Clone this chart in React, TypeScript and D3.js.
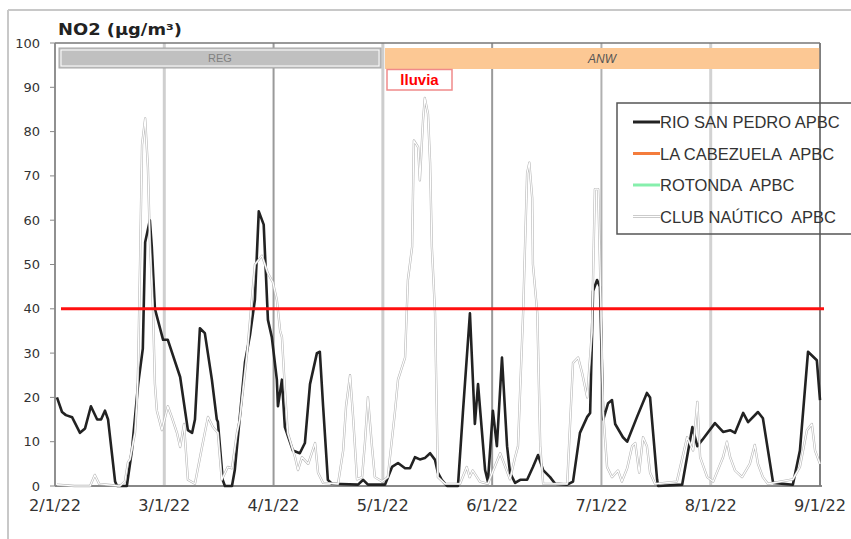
import React from "react";
import * as d3 from "d3";

// Day offsets (from 1 Feb 2022) of each month start on the axis
const monthStartDays = [0, 28, 59, 89, 120, 150, 181, 212];
const monthLabels = ["2/1/22", "3/1/22", "4/1/22", "5/1/22", "6/1/22", "7/1/22", "8/1/22", "9/1/22"];
const yTicks = [0, 10, 20, 30, 40, 50, 60, 70, 80, 90, 100];
const limitValue = 40;

// RIO SAN PEDRO APBC: [day offset, NO2 µg/m³]
const rioSanPedro: [number, number][] = [
  [0.5, 20], [1.8, 16.7], [2.8, 16], [4.4, 15.5], [6.4, 12], [7.7, 13], [9.2, 18], [10.8, 15],
  [11.8, 15], [12.8, 17], [13.6, 15], [15.4, 1], [15.9, 0], [18.4, 0], [19.7, 8], [21.3, 23],
  [22.5, 31], [23.1, 55], [24.3, 60], [24.8, 54], [25.6, 40], [27.7, 33], [29.0, 33], [32.5, 24.6],
  [34.7, 12.6], [35.9, 12], [36.7, 15], [38.1, 35.6], [39.5, 34.5], [41.5, 24], [42.9, 15],
  [43.2, 14.5], [44.6, 1.3], [45.2, 0], [47.2, 0], [48.0, 3.6], [50.9, 28], [52.3, 34], [53.7, 42],
  [54.8, 62], [56.2, 59], [57.4, 37.5], [58.5, 33.6], [59.9, 24], [60.2, 18], [61.3, 24],
  [62.1, 13.3], [64.3, 8], [66.2, 7.4], [67.6, 9.7], [69.0, 23], [70.9, 30], [71.7, 30.3],
  [72.6, 18], [73.9, 1.4], [75.0, 0.5], [82.2, 0.3], [83.6, 1.4], [84.9, 0.3], [89.6, 0.3],
  [91.6, 4.3], [93.3, 5.2], [95.3, 4], [96.7, 4], [98.1, 6.5], [99.5, 6], [100.9, 6.3],
  [102.4, 7.4], [103.8, 5.9], [104.6, 3], [105.7, 1.4], [107.2, 0], [110.3, 0], [111.7, 16.5],
  [113.7, 39], [115.1, 14], [116.0, 23], [118.0, 3.6], [118.8, 1], [120.2, 17], [121.3, 9],
  [122.7, 29], [124.1, 9], [124.9, 3], [126.3, 0.7], [127.7, 1.4], [129.6, 1.4], [131.2, 4.3],
  [132.6, 7], [134.0, 3.6], [135.9, 2], [137.3, 0.5], [140.6, 0.3], [142.2, 1], [144.1, 12],
  [146.1, 15.6], [146.9, 16.5], [147.7, 44], [148.8, 46.5], [149.6, 45], [150.5, 15],
  [151.9, 18.7], [153.0, 19.4], [153.9, 14], [156.1, 11], [157.3, 10], [160.1, 15.6],
  [162.9, 21], [163.8, 20], [165.8, 1.4], [166.1, 0], [172.9, 0.3], [175.8, 13.3], [177.2, 9],
  [178.6, 10.4], [182.2, 14.2], [184.5, 12.2], [186.5, 12.6], [187.9, 12], [190.2, 16.5],
  [191.6, 14.4], [194.4, 16.7], [195.8, 15.3], [198.7, 0.7], [204.3, 0.3], [206.3, 8],
  [208.6, 30.3], [211.1, 28.4], [212, 19.4],
];

// CLUB NAÚTICO APBC: [day offset, NO2 µg/m³]
const clubNautico: [number, number][] = [
  [0.5, 0.3], [5, 0], [9, 0], [10.2, 2.5], [11.3, 0.5], [16.6, 0], [17.9, 1], [18.7, 5.4],
  [19.2, 6], [20.5, 12], [21.0, 19], [21.3, 27], [21.8, 51], [22.3, 77], [23.1, 83], [23.8, 72],
  [24.3, 55.5], [25.1, 40], [25.6, 23], [26.1, 17], [27.4, 12.6], [29.0, 18], [30.1, 15.6],
  [31.6, 12], [32.5, 8.8], [33.6, 14], [34.7, 1.4], [36.7, 0.5], [38.7, 8.8], [40.4, 15.6],
  [41.8, 13.3], [43.2, 12], [44.3, 1.4], [46.0, 4.3], [47.2, 4], [48.6, 12], [49.4, 15],
  [51.5, 30], [53.7, 50], [55.7, 52], [57.4, 48], [58.8, 46], [59.9, 42], [60.8, 35],
  [61.3, 33.6], [62.1, 22], [62.9, 12], [64.9, 6.5], [65.7, 3.6], [66.8, 6.5], [68.5, 5],
  [70.4, 9.7], [71.2, 3], [72.6, 0.7], [76.7, 0.5], [78.1, 8], [78.9, 18], [80.0, 25],
  [80.8, 16], [81.9, 1.5], [83.3, 2], [84.1, 10], [84.9, 20], [86.0, 9], [86.8, 2], [88.8, 1],
  [90.4, 2], [92.4, 16.5], [93.3, 24], [95.3, 29], [96.1, 46.5], [97.3, 54], [97.8, 78],
  [99.0, 76.5], [99.5, 69], [100.4, 82.6], [100.9, 87.6], [101.8, 84], [102.4, 73],
  [102.9, 54], [103.8, 39], [104.3, 16.5], [104.6, 2], [106.6, 0.5], [110.9, 0.5],
  [112.8, 4.3], [113.6, 2], [114.5, 3.5], [116.5, 1], [118.8, 0.5], [122.2, 7.4], [124.9, 1.5],
  [126.3, 6.5], [127.1, 9], [128.5, 39], [129.6, 70.6], [130.2, 73], [131.0, 65], [131.2, 50],
  [132.4, 39], [133.2, 9], [134.0, 0.5], [140.6, 0.5], [142.2, 27.8], [143.6, 29],
  [144.7, 25.5], [146.1, 20], [147.4, 35], [148.2, 67], [149.1, 67], [149.6, 50], [150.5, 16.5],
  [151.6, 4.3], [153.0, 2], [154.7, 3.5], [155.8, 1], [157.3, 4], [158.7, 9], [159.6, 9.7],
  [160.7, 3], [161.8, 11], [162.9, 9], [163.8, 3], [165.2, 0.5], [171.4, 1], [174.3, 11],
  [176.0, 8], [177.2, 19], [178.0, 6.5], [180.0, 2], [181.7, 1], [184.5, 6.5], [185.6, 10],
  [186.5, 6.5], [187.9, 3.5], [189.9, 2], [192.1, 5], [193.5, 9.3], [194.4, 5], [195.8, 2],
  [197.2, 0.5], [204.3, 1.5], [206.3, 4.3], [208.3, 12.6], [209.7, 14], [210.6, 8], [212, 5],
];

const legendItems = [
  { label: "RIO SAN PEDRO APBC", color: "#222222" },
  { label: "LA CABEZUELA  APBC", color: "#f47c3c" },
  { label: "ROTONDA  APBC", color: "#86efac" },
  { label: "CLUB NAÚTICO  APBC", color: "#ffffff" },
];

const W = 851;
const H = 539;
const left = 55;
const right = 820;
const top = 43;
const bottom = 486;

const x = d3
  .scaleLinear()
  .domain(monthStartDays)
  .range(monthStartDays.map((_, i) => left + (i * (right - left)) / 7));
const y = d3.scaleLinear().domain([0, 100]).range([bottom, top]);

const line = d3
  .line<[number, number]>()
  .x((d) => x(d[0]))
  .y((d) => y(d[1]));

const gridColors = ["#888", "#cfcfcf", "#9a9a9a", "#cdcdcd", "#9a9a9a", "#b0b0b0", "#d2d2d2", "#777"];
const gridWidths = [1.5, 3, 2, 3, 2, 2, 3, 1.5];

const axisFont = "'DejaVu Sans', Verdana, sans-serif";
const arial = "'Liberation Sans', Arial, sans-serif";

export default function App() {
  const rioPath = line(rioSanPedro) ?? "";
  const clubPath = line(clubNautico) ?? "";
  return (
    <svg
      width={W}
      height={H}
      style={{ position: "fixed", left: 0, top: 0, background: "#fff" }}
    >
      {/* outer frame */}
      <line x1={8} y1={10} x2={W} y2={10} stroke="#c8c8c8" strokeWidth={2} />
      <line x1={8} y1={10} x2={8} y2={H} stroke="#c8c8c8" strokeWidth={2} />

      {/* title */}
      <text x={58} y={35} fontFamily={axisFont} fontWeight="bold" fontSize={15} fill="#222" textLength={124} lengthAdjust="spacingAndGlyphs">
        NO2 (µg/m³)
      </text>

      {/* month gridlines */}
      {monthStartDays.map((d, i) => (
        <line key={i} x1={x(d)} x2={x(d)} y1={top} y2={bottom} stroke={gridColors[i]} strokeWidth={gridWidths[i]} />
      ))}

      {/* plot frame top */}
      <line x1={left} x2={right} y1={top} y2={top} stroke="#777" strokeWidth={1.5} />

      {/* period bars */}
      <rect x={59} y={48} width={322} height={20} fill="#c0c0c0" stroke="#a8a8a8" strokeWidth={1} />
      <rect x={61} y={50} width={318} height={16} fill="none" stroke="#ffffff" strokeWidth={1} />
      <text x={220} y={62} textAnchor="middle" fontFamily={arial} fontSize={11} fill="#808080">REG</text>
      <rect x={385} y={48} width={435} height={21} fill="#fcc894" />
      <text x={602} y={63} textAnchor="middle" fontFamily={arial} fontStyle="italic" fontSize={12} fill="#555">ANW</text>

      {/* rain label */}
      <rect x={387} y={69.5} width={65} height={20.5} fill="#ffffff" stroke="#f08a8a" strokeWidth={1.5} />
      <text x={419.5} y={85} textAnchor="middle" fontFamily={arial} fontWeight="bold" fontSize={15} fill="#ff0000">lluvia</text>

      {/* y axis */}
      <line x1={left} x2={left} y1={top} y2={bottom} stroke="#888" strokeWidth={1.5} />
      {yTicks.map((t) => (
        <g key={t}>
          <line x1={left - 5} x2={left} y1={y(t)} y2={y(t)} stroke="#888" />
          <text x={40} y={y(t) + 4.5} textAnchor="end" fontFamily={axisFont} fontSize={13} fill="#333">
            {t}
          </text>
        </g>
      ))}

      {/* x axis */}
      <line x1={left} x2={right + 2} y1={bottom} y2={bottom} stroke="#888" strokeWidth={2} />
      {monthStartDays.map((d, i) => (
        <text key={i} x={x(d)} y={511} textAnchor="middle" fontFamily={axisFont} fontSize={15} fill="#333" textLength={52} lengthAdjust="spacingAndGlyphs">
          {monthLabels[i]}
        </text>
      ))}

      {/* plot frame right */}
      <line x1={right} x2={right} y1={top} y2={bottom} stroke="#777" strokeWidth={1.5} />

      {/* series */}
      <path d={rioPath} fill="none" stroke="#222" strokeWidth={2.6} strokeLinejoin="round" />
      <path d={clubPath} fill="none" stroke="#b4b4b4" strokeWidth={2.3} strokeLinejoin="round" />
      <path d={clubPath} fill="none" stroke="#ffffff" strokeWidth={1.2} strokeLinejoin="round" />

      {/* limit value */}
      <line x1={61} x2={824} y1={y(limitValue)} y2={y(limitValue)} stroke="#ff1010" strokeWidth={3} />

      {/* legend */}
      <rect x={617} y={103} width={260} height={131} fill="none" stroke="#555" strokeWidth={1.5} />
      {legendItems.map((item, i) => {
        const cy = 122 + i * 31.5;
        return (
          <g key={item.label}>
            {i === 3 ? (
              <>
                <line x1={633} x2={660} y1={cy} y2={cy} stroke="#bbb" strokeWidth={3} />
                <line x1={633} x2={660} y1={cy} y2={cy} stroke="#fff" strokeWidth={1.5} />
              </>
            ) : (
              <line x1={633} x2={660} y1={cy} y2={cy} stroke={item.color} strokeWidth={3} />
            )}
            <text x={660} y={cy + 6} fontFamily={arial} fontSize={16.5} fill="#333" style={{ whiteSpace: "pre" }}>
              {item.label}
            </text>
          </g>
        );
      })}
    </svg>
  );
}
